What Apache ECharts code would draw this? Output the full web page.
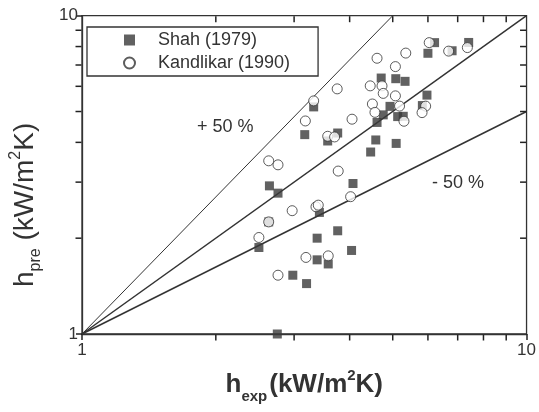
<!DOCTYPE html>
<html>
<head>
<meta charset="utf-8">
<script src="https://cdn.jsdelivr.net/npm/echarts@6/dist/echarts.min.js"></script>
<style>html,body{margin:0;padding:0;background:#fff}#c{width:539px;height:412px}</style>
</head>
<body>
<div id="c"></div>
<script>
// Shah (1979)
const shahX = [2.50,2.64,2.76,2.75,2.98,3.20,3.38,3.58,4.04,3.38,3.76,3.42,4.07,3.17,3.57,3.76,3.32,4.46,4.58,5.09,4.61,4.76,4.93,5.13,5.28,5.83,5.97,4.71,5.08,5.33,6.00,6.21,6.80,7.41,2.63];
const shahY = [1.87,2.92,2.77,1.00,1.53,1.44,1.71,1.66,1.83,2.00,2.11,2.41,2.97,4.23,4.04,4.28,5.17,3.73,4.07,3.97,4.62,4.88,5.19,4.82,4.83,5.22,5.63,6.37,6.34,6.22,7.62,8.23,7.76,8.24,2.25];
// Kandlikar (1990)
const kandX = [2.50,2.63,2.63,2.76,2.76,2.97,3.19,3.36,3.40,3.58,3.77,4.02,3.18,3.32,3.57,3.70,3.75,4.05,4.45,4.73,4.76,5.07,4.50,4.56,5.18,5.30,5.93,5.82,4.61,5.07,5.35,6.04,6.68,7.36];
const kandY = [2.01,2.25,3.50,3.40,1.53,2.44,1.74,2.51,2.54,1.76,3.25,2.70,4.67,5.40,4.18,4.16,5.89,4.73,6.02,6.02,5.70,5.60,5.28,4.97,5.20,4.66,5.20,4.96,7.35,6.92,7.63,8.23,7.74,7.94];
// reference lines (endpoints)
const lineUpperX = [1, 5];
const lineUpperY = [1, 10];
const lineMidX = [1, 10];
const lineMidY = [1, 10];
const lineLowerX = [1, 10];
const lineLowerY = [1, 5];
const minorTicks = [2,3,4,5,6,7,8,9];
const seriesNames = ['Shah (1979)', 'Kandlikar (1990)'];
const labelUpper = '+ 50 %';
const labelLower = '- 50 %';

const zip = (a, b) => a.map((v, i) => [v, b[i]]);
const INK = '#333';
const FONT = 'Arial, "Liberation Sans", sans-serif';

const tickSeries = (name, data, size, offset) => ({
  name: name, type: 'scatter', data: data, symbol: 'rect', symbolSize: size, symbolOffset: offset,
  clip: false, silent: true, z: 6, itemStyle: { color: '#222', opacity: 1 }
});

const chart = echarts.init(document.getElementById('c'));
chart.setOption({
  animation: false,
  grid: { left: 81.5, right: 9, top: 15.7, bottom: 78, show: true, borderColor: INK, borderWidth: 1.3, backgroundColor: 'transparent' },
  legend: {
    orient: 'vertical', left: 87, top: 27,
    padding: [4, 28, 4, 36],
    itemGap: 5, itemWidth: 11, itemHeight: 11,
    borderColor: INK, borderWidth: 1.3,
    data: seriesNames,
    formatter: n => '{g|}' + n,
    textStyle: { fontSize: 18, color: INK, fontFamily: FONT, rich: { g: { width: 18 } } }
  },
  xAxis: {
    type: 'log', logBase: 10, min: 1, max: 10,
    axisLine: { lineStyle: { color: INK, width: 1.3 } },
    axisTick: { show: true, length: 6, lineStyle: { color: '#222', width: 1.5 } },
    axisLabel: { fontSize: 17, color: INK, fontFamily: FONT, margin: 8 },
    splitLine: { show: false },
    name: '{h|h}{s|exp}{t|(kW/m}{p|2}{t|K)}',
    nameLocation: 'middle', nameGap: 31,
    nameTextStyle: {
      rich: {
        h: { fontSize: 26, fontWeight: 'bold', color: INK, fontFamily: FONT },
        s: { fontSize: 15, fontWeight: 'bold', color: INK, fontFamily: FONT, padding: [24, 2, 0, 0] },
        t: { fontSize: 26, fontWeight: 'bold', color: INK, fontFamily: FONT },
        p: { fontSize: 15, fontWeight: 'bold', color: INK, fontFamily: FONT, padding: [0, 0, 18, 0] }
      }
    }
  },
  yAxis: {
    type: 'log', logBase: 10, min: 1, max: 10,
    axisLine: { lineStyle: { color: INK, width: 1.3 } },
    axisTick: { show: true, length: 6, lineStyle: { color: '#222', width: 1.5 } },
    axisLabel: { fontSize: 17, color: INK, fontFamily: FONT, margin: 4 },
    splitLine: { show: false },
    name: '{h|h}{s|pre}{t| (kW/m}{p|2}{t|K)}',
    nameLocation: 'middle', nameGap: 38,
    nameTextStyle: {
      padding: [0, 60, 0, 0],
      rich: {
        h: { fontSize: 28, color: INK, fontFamily: FONT },
        s: { fontSize: 16, color: INK, fontFamily: FONT, padding: [22, 0, 0, 0] },
        t: { fontSize: 28, color: INK, fontFamily: FONT },
        p: { fontSize: 16, color: INK, fontFamily: FONT, padding: [0, 0, 18, 0] }
      }
    }
  },
  graphic: [
    { type: 'text', left: 197, top: 118, style: { text: labelUpper, fontSize: 18, fill: INK, fontFamily: FONT } },
    { type: 'text', left: 432, top: 174, style: { text: labelLower, fontSize: 18, fill: INK, fontFamily: FONT } }
  ],
  series: [
    { type: 'line', data: zip(lineUpperX, lineUpperY), symbol: 'none', lineStyle: { color: INK, width: 1 }, z: 1, silent: true },
    { type: 'line', data: zip(lineMidX, lineMidY), symbol: 'none', lineStyle: { color: INK, width: 1.5 }, z: 1, silent: true },
    { type: 'line', data: zip(lineLowerX, lineLowerY), symbol: 'none', lineStyle: { color: INK, width: 1.5 }, z: 1, silent: true },
    // minor ticks: bottom (outward), top (inward), left (outward), right (inward)
    tickSeries('tb', minorTicks.map(v => [v, 1]), [1.5, 6], [0, 3.5]),
    tickSeries('tt', minorTicks.map(v => [v, 10]), [1.5, 6], [0, 3.5]),
    tickSeries('tl', minorTicks.map(v => [1, v]), [6, 1.5], [-3.5, 0]),
    tickSeries('tr', minorTicks.map(v => [10, v]), [6, 1.5], [-3.5, 0]),
    { name: seriesNames[0], type: 'scatter', data: zip(shahX, shahY), symbol: 'rect', symbolSize: 9, clip: false, itemStyle: { color: '#3a3a3a' }, z: 4 },
    { name: seriesNames[1], type: 'scatter', data: zip(kandX, kandY), symbol: 'circle', symbolSize: 10, clip: false, itemStyle: { color: '#fff', borderColor: INK, borderWidth: 1 }, z: 5 }
  ]
});
</script>
</body>
</html>
